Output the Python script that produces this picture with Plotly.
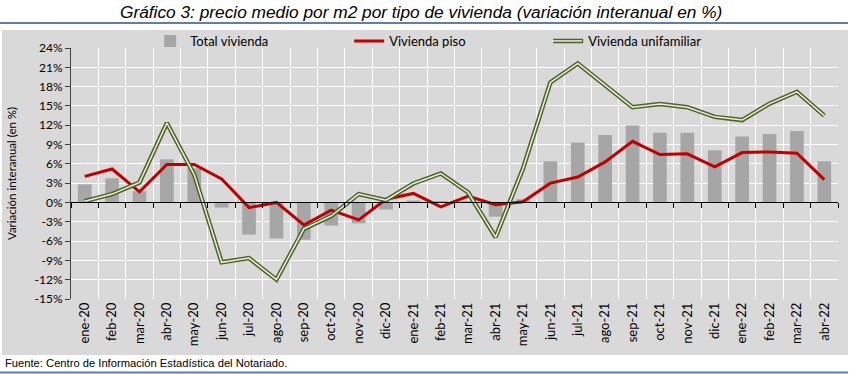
import plotly.graph_objects as go

categorias = ["ene-20", "feb-20", "mar-20", "abr-20", "may-20", "jun-20", "jul-20",
              "ago-20", "sep-20", "oct-20", "nov-20", "dic-20", "ene-21", "feb-21",
              "mar-21", "abr-21", "may-21", "jun-21", "jul-21", "ago-21", "sep-21",
              "oct-21", "nov-21", "dic-21", "ene-22", "feb-22", "mar-22", "abr-22"]

total_vivienda = [2.8, 3.75, 1.75, 6.7, 5.3, -0.8, -5.0, -5.6, -5.8, -3.6, -3.25, -1.1,
                  0.3, 0.1, 0.2, -2.2, 0.5, 6.4, 9.3, 10.5, 11.95, 10.85, 10.85, 8.1,
                  10.25, 10.65, 11.1, 6.4]

vivienda_piso = [4.05, 5.2, 1.65, 5.9, 5.9, 3.65, -0.8, 0.0, -3.5, -1.2, -2.7, 0.5,
                 1.4, -0.7, 1.0, -0.35, 0.1, 3.0, 3.95, 6.3, 9.5, 7.45, 7.55, 5.55,
                 7.75, 7.85, 7.65, 3.55]

vivienda_unifamiliar = [0.2, 1.3, 3.1, 12.35, 4.3, -9.3, -8.65, -12.0, -4.1, -2.1, 1.3, 0.35,
                        2.95, 4.5, 1.55, -5.4, 5.25, 18.65, 21.6, 18.2, 14.8, 15.3, 14.8, 13.3,
                        12.8, 15.35, 17.2, 13.5]

y_ticks = [-15, -12, -9, -6, -3, 0, 3, 6, 9, 12, 15, 18, 21, 24]
y_ticktext = [f"{v}%" for v in y_ticks]

FONT = "Lato"

fig = go.Figure()

fig.add_trace(go.Bar(x=categorias, y=total_vivienda, name="Total vivienda",
                     marker=dict(color="#a6a6a6", line=dict(width=0))))
fig.add_trace(go.Scatter(x=categorias, y=vivienda_piso, name="Vivienda piso", mode="lines",
                         line=dict(color="#c00000", width=3)))
fig.add_trace(go.Scatter(x=categorias, y=vivienda_unifamiliar, name="Vivienda unifamiliar",
                         mode="lines", line=dict(color="#4f6228", width=4.5)))
# light inner stroke -> double-line look; its legend swatch overlays the outer one
fig.add_trace(go.Scatter(x=categorias, y=vivienda_unifamiliar, name=" ",
                         mode="lines", line=dict(color="#ebf1de", width=1.5),
                         legend="legend2", hoverinfo="skip"))
# invisible trace carrying the zero-line axis with category-boundary ticks
fig.add_trace(go.Scatter(x=categorias, y=[0] * len(categorias), xaxis="x2", mode="lines",
                         line=dict(width=0), showlegend=False, hoverinfo="skip"))

fig.update_layout(
    width=850, height=374,
    margin=dict(l=71, r=12, t=48, b=75, autoexpand=False),
    paper_bgcolor="white",
    plot_bgcolor="#d9d9d9",
    font=dict(family=FONT, size=12, color="black"),
    bargap=0.5,
    showlegend=True,
    legend=dict(orientation="h", x=0.1032, xanchor="left", y=1.028, yanchor="middle",
                bgcolor="rgba(0,0,0,0)", entrywidth=154, entrywidthmode="pixels",
                font=dict(family=FONT, size=13), itemwidth=30, tracegroupgap=0),
    legend2=dict(orientation="h", x=0.6206, xanchor="left", y=1.028, yanchor="middle",
                 bgcolor="rgba(0,0,0,0)", font=dict(family=FONT, size=13), itemwidth=30),
    xaxis=dict(type="category", categoryorder="array", categoryarray=categorias,
               tickangle=-90, showgrid=True, gridcolor="white", gridwidth=1,
               tickson="boundaries", ticks="", showline=False, zeroline=False,
               automargin=False,
               tickfont=dict(family=FONT, size=13), range=[-0.5, 27.5]),
    xaxis2=dict(type="category", categoryorder="array", categoryarray=categorias,
                overlaying="x", anchor="free", position=15 / 39, matches="x",
                showticklabels=False, showgrid=False, showline=True, linecolor="black",
                linewidth=1, ticks="outside", ticklen=5, tickcolor="black",
                tickson="boundaries", zeroline=False, automargin=False),
    yaxis=dict(range=[-15, 24], tickvals=y_ticks, ticktext=y_ticktext, showgrid=True,
               gridcolor="white", gridwidth=1, zeroline=False, showline=True,
               linecolor="#404040", linewidth=1, ticks="outside", ticklen=5,
               tickcolor="#404040", tickfont=dict(family=FONT, size=12), automargin=False),
    shapes=[
        dict(type="rect", xref="paper", yref="paper", x0=-0.090, x1=1.013,
             y0=-0.223, y1=1.072, fillcolor="#d9d9d9", line=dict(width=0), layer="below"),
        dict(type="line", xref="paper", yref="paper", x0=-0.0926, x1=1.013,
             y0=1.0996, y1=1.0996, line=dict(color="#5a80b0", width=2)),
        dict(type="line", xref="paper", yref="paper", x0=-0.0926, x1=1.013,
             y0=-0.293, y1=-0.293, line=dict(color="#5a80b0", width=2)),
    ],
    annotations=[
        dict(text="<i>Gráfico 3: precio medio por m2 por tipo de vivienda (variación interanual en %)</i>",
             xref="paper", yref="paper", x=0.4565, y=1.145, xanchor="center", yanchor="middle",
             showarrow=False, font=dict(family="Liberation Sans", size=17.3, color="black")),
        dict(text="Variación interanual (en %)", xref="paper", yref="paper",
             x=-0.0775, y=0.5, xanchor="center", yanchor="middle", textangle=-90,
             showarrow=False, font=dict(family=FONT, size=11.5, color="black")),
        dict(text="Fuente: Centro de Información Estadística del Notariado.", xref="paper",
             yref="paper", x=-0.0886, y=-0.255, xanchor="left", yanchor="middle",
             showarrow=False,
             font=dict(family="Liberation Sans", size=11.2, color="black")),
    ],
)

fig.write_html("out.html", config={"displayModeBar": False},
               post_script="document.body.style.margin='0px';")
